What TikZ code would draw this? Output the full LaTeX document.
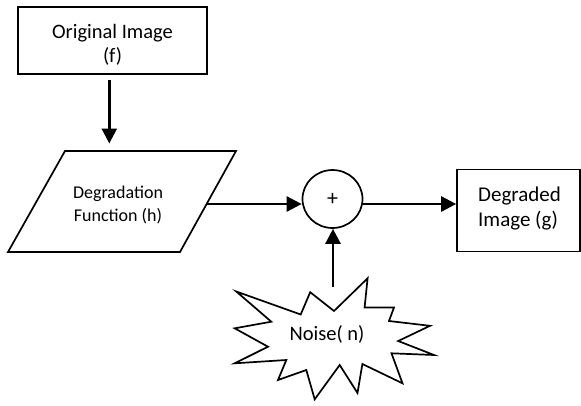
\documentclass[tikz,border=0pt]{standalone}
\usepackage{fontspec}
\setmainfont{Carlito}
\usetikzlibrary{arrows.meta,shapes.geometric}
\begin{document}
\begin{tikzpicture}[x=1pt,y=-1pt,
  shapeline/.style={draw=black, line width=1.7pt},
  arr/.style={line width=2.6pt, -{Triangle[length=15pt,width=15pt]}},
  txt/.style={inner sep=0pt, align=center}]
\useasboundingbox (0,0) rectangle (581,405);
% Original image box
\node[shapeline, minimum width=189pt, minimum height=67pt, inner sep=0pt] (orig) at (112.5,40.5) {};
\node[txt, font=\fontsize{20.5}{24}\selectfont] (origt) at (112.5,45) {Original Image\\(f)};
% Degradation parallelogram
\draw[shapeline, line join=miter] (65,151) -- (236,151) -- (180,252) -- (8,252) -- cycle;
\node[txt, font=\fontsize{18}{23}\selectfont] (deg) at (118,205) {Degradation\\Function (h)};
\coordinate (degout) at (206,204);
% Sum circle
\node[shapeline, ellipse, minimum width=60pt, minimum height=58pt, inner sep=0pt, font=\fontsize{22}{24}\selectfont] (sum) at (332.5,199) {+};
% Degraded image box
\node[shapeline, minimum width=123pt, minimum height=82pt, inner sep=0pt] (dimg) at (518.5,210.5) {};
\node[txt, align=left, anchor=west, font=\fontsize{21}{25}\selectfont] (dimgt) at (478,208.5) {Degraded\\Image (g)};
% Noise star
\draw[shapeline, line join=miter] (236.3,291.5) -- (300.7,314.5) -- (310.2,292.2) -- (334,311)
  -- (367.6,278.3) -- (364.6,307.5) -- (394.0,307.5) -- (389.0,321.0) -- (430.0,325.8)
  -- (398.2,341.0) -- (434.0,355.0) -- (391.5,353.3) -- (402.5,383.3) -- (362.4,364.0)
  -- (357.5,393.0) -- (339.7,365.0) -- (314.7,399.3) -- (306.3,370.0) -- (278.0,380.0)
  -- (286.3,360.0) -- (234.7,363.3) -- (268.0,346.7) -- (234.7,328.3) -- (271.3,321.7) -- cycle;
\node[txt, font=\fontsize{20.5}{24}\selectfont] (noise) at (327,334) {Noise( n)};
\coordinate (nstart) at (333,286.5);
% connectors
\coordinate (ostart) at (109.3,80);
\coordinate (dtop) at (109.3,143.5);
\draw[arr] (ostart) -- (dtop);
\draw[arr] (degout) -- (degout -| sum.west);
\draw[arr] ([yshift=-5pt]sum.east) -- ([yshift=-5pt]sum.east -| dimg.west);
\draw[arr] (nstart) -- (nstart |- sum.south);
\end{tikzpicture}
\end{document}
